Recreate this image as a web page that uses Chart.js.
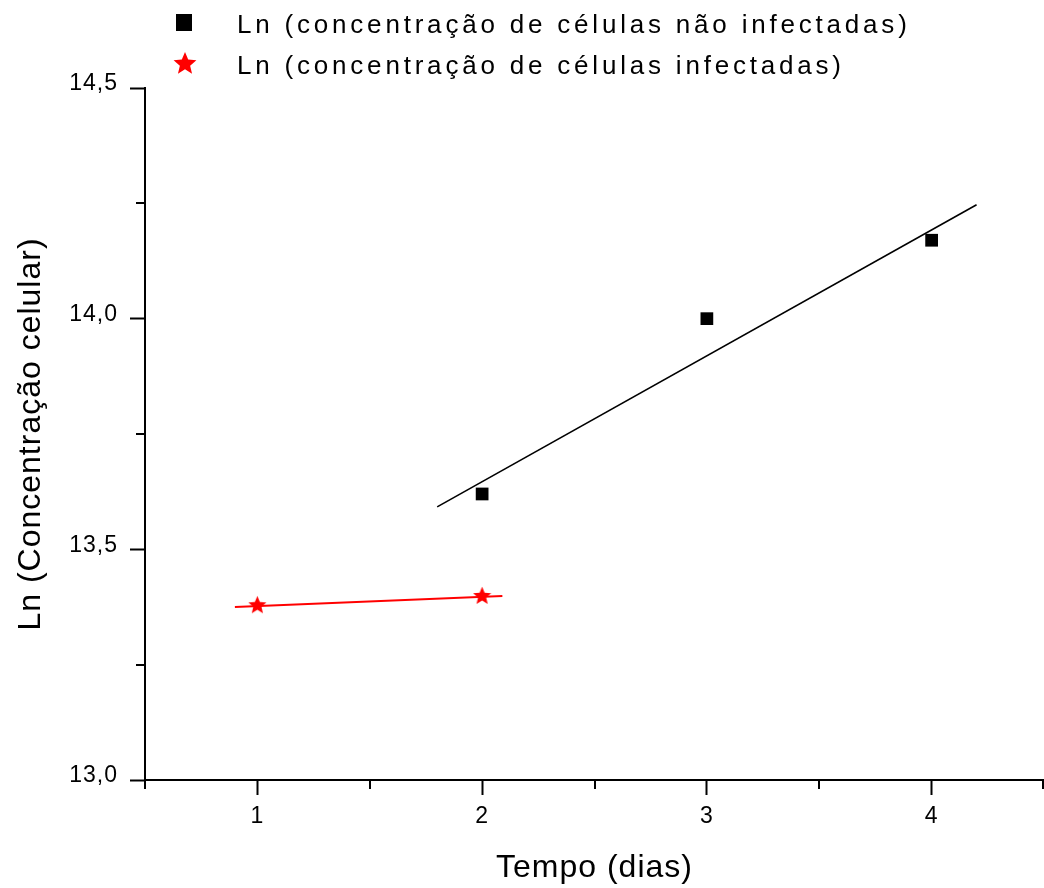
<!DOCTYPE html>
<html><head><meta charset="utf-8">
<script src="https://cdn.jsdelivr.net/npm/chart.js@4.4.1/dist/chart.umd.min.js"></script>
<style>html,body{margin:0;padding:0;background:#fff}canvas{display:block}</style>
</head><body>
<canvas id="c" width="1044" height="888"></canvas>
<script>
// ---- data ----
const uninfectedDays = [2, 3, 4];
const uninfectedLn = [13.62, 14.00, 14.17];
const infectedDays = [1, 2];
const infectedLn = [13.38, 13.40];
const uninfectedFitDays = [1.8, 4.2];
const uninfectedFitLn = [13.592, 14.247];
const infectedFitDays = [0.9, 2.09];
const infectedFitLn = [13.375, 13.399];
const xMajorTicks = [1, 2, 3, 4];
const xTickLabels = ['1', '2', '3', '4'];
const xMinorTicks = [0.5, 1.5, 2.5, 3.5, 4.5];
const yMajorTicks = [13.0, 13.5, 14.0, 14.5];
const yTickLabels = ['13,0', '13,5', '14,0', '14,5'];
const yMinorTicks = [13.25, 13.75, 14.25];
const seriesNames = ['Ln (concentração de células não infectadas)', 'Ln (concentração de células infectadas)'];
const xTitle = 'Tempo (dias)';
const yTitle = 'Ln (Concentração celular)';

const FONT = "'Liberation Sans', Arial, sans-serif";
const zip = (xs, ys) => xs.map((x, i) => ({x: x, y: ys[i]}));

function makeStar(size, color) {
  const c = document.createElement('canvas');
  c.width = size; c.height = size;
  const g = c.getContext('2d');
  const R = size / 2, r = R * 0.45, cx = size / 2, cy = size / 2 + size * 0.04;
  g.beginPath();
  for (let i = 0; i < 10; i++) {
    const rad = i % 2 === 0 ? R : r;
    const a = -Math.PI / 2 + i * Math.PI / 5;
    const px = cx + rad * Math.cos(a), py = cy + rad * Math.sin(a);
    if (i === 0) g.moveTo(px, py); else g.lineTo(px, py);
  }
  g.closePath();
  g.fillStyle = color;
  g.fill();
  return c;
}
const starPoint = makeStar(19, '#ff0000');
const starLegend = makeStar(24, '#ff0000');

const spacingPlugin = {
  id: 'spacing',
  beforeDraw(chart) { chart.ctx.letterSpacing = '1px'; }
};

const minorTicksPlugin = {
  id: 'minorTicks',
  afterDraw(chart) {
    const ctx = chart.ctx, xs = chart.scales.x, ys = chart.scales.y;
    const area = chart.chartArea;
    ctx.save();
    ctx.strokeStyle = '#000';
    ctx.lineWidth = 2;
    ctx.beginPath();
    xMinorTicks.forEach(v => {
      const px = Math.min(Math.round(xs.getPixelForValue(v)), chart.width - 1);
      ctx.moveTo(px, area.bottom);
      ctx.lineTo(px, area.bottom + 9);
    });
    yMinorTicks.forEach(v => {
      const py = Math.round(ys.getPixelForValue(v));
      ctx.moveTo(area.left - 9, py);
      ctx.lineTo(area.left, py);
    });
    ctx.stroke();
    ctx.restore();
  }
};

const legendPlugin = {
  id: 'customLegend',
  afterDraw(chart) {
    const ctx = chart.ctx;
    ctx.save();
    ctx.letterSpacing = '3.8px';
    ctx.font = '26px ' + FONT;
    ctx.fillStyle = '#000';
    ctx.textBaseline = 'alphabetic';
    ctx.textAlign = 'left';
    ctx.fillRect(176, 14, 16, 17);
    ctx.fillText(seriesNames[0], 237, 33);
    ctx.drawImage(starLegend, 185 - 12, 63 - 12);
    ctx.fillText(seriesNames[1], 237, 74);
    ctx.restore();
  }
};

new Chart(document.getElementById('c'), {
  type: 'scatter',
  data: {
    datasets: [
      {
        label: seriesNames[0], data: zip(uninfectedDays, uninfectedLn),
        pointStyle: 'rect', pointRadius: 9, pointHoverRadius: 9,
        backgroundColor: '#000', borderColor: '#000', borderWidth: 0, showLine: false, order: 0
      },
      {
        label: seriesNames[1], data: zip(infectedDays, infectedLn),
        pointStyle: starPoint, pointRadius: 9, showLine: false, order: 0
      },
      {
        label: 'fit1', data: zip(uninfectedFitDays, uninfectedFitLn),
        showLine: true, pointRadius: 0, borderColor: '#000', borderWidth: 1.6, order: 1
      },
      {
        label: 'fit2', data: zip(infectedFitDays, infectedFitLn),
        showLine: true, pointRadius: 0, borderColor: '#ff0000', borderWidth: 2, order: 1
      }
    ]
  },
  options: {
    responsive: false,
    animation: false,
    devicePixelRatio: 1,
    layout: { autoPadding: false, padding: { top: 88, right: -2, bottom: 0, left: 0 } },
    plugins: { legend: { display: false }, tooltip: { enabled: false } },
    scales: {
      x: {
        type: 'linear', min: 0.5, max: 4.5,
        afterBuildTicks: s => { s.ticks = xMajorTicks.map(v => ({value: v})); },
        afterFit: s => { s.height = 108; s.paddingLeft = 0; s.paddingRight = 0; },
        ticks: {
          callback: (v, i) => xTickLabels[i],
          font: { family: FONT, size: 23 }, color: '#000', padding: 8, maxRotation: 0
        },
        grid: { drawOnChartArea: false, drawTicks: true, tickLength: 15, tickWidth: 2, tickColor: '#000' },
        border: { display: true, color: '#000', width: 2 },
        title: { display: true, text: xTitle, font: { family: FONT, size: 32 }, color: '#000', padding: { top: 0, bottom: 1 } }
      },
      y: {
        type: 'linear', min: 13.0, max: 14.5,
        afterBuildTicks: s => { s.ticks = yMajorTicks.map(v => ({value: v})); },
        afterFit: s => { s.width = 145; s.paddingTop = 0; s.paddingBottom = 0; },
        ticks: {
          callback: (v, i) => yTickLabels[i],
          font: { family: FONT, size: 23 }, color: '#000', padding: 12, labelOffset: -4
        },
        grid: { drawOnChartArea: false, drawTicks: true, tickLength: 15, tickWidth: 2, tickColor: '#000' },
        border: { display: true, color: '#000', width: 2 },
        title: { display: true, text: yTitle, font: { family: FONT, size: 32 }, color: '#000', padding: { top: 12, bottom: 0 } }
      }
    }
  },
  plugins: [spacingPlugin, minorTicksPlugin, legendPlugin]
});
</script>
</body></html>
